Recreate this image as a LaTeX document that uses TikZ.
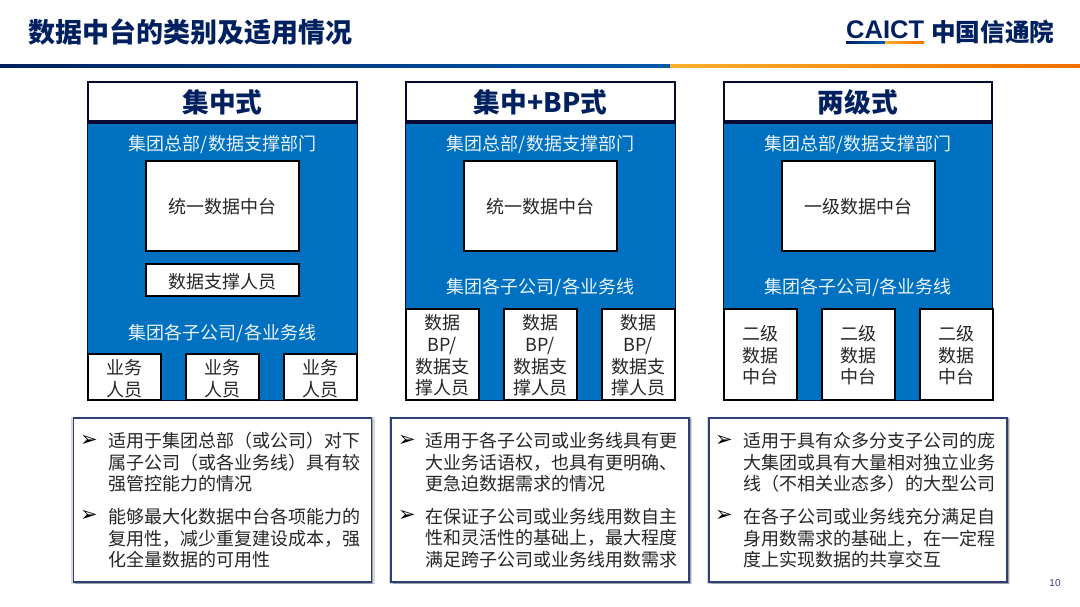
\documentclass[tikz,border=0pt]{standalone}
\usepackage{fontspec}
\setmainfont{Noto Sans CJK SC}
\newfontfamily\latinfont{Liberation Sans}
\newfontfamily\markfont{DejaVu Sans}
\usetikzlibrary{shadows}
\definecolor{NavyText}{RGB}{0,32,96}
\definecolor{PlainBlue}{RGB}{0,112,192}
\definecolor{BoxEdge}{RGB}{5,10,50}
\definecolor{PanelEdge}{RGB}{47,62,120}
\definecolor{TextGrey}{RGB}{38,38,38}
\definecolor{RuleBlue}{RGB}{0,90,170}
\definecolor{RuleYellow}{RGB}{250,175,45}
\definecolor{RuleOrange}{RGB}{240,110,0}
\newcommand{\boxtext}[1]{\raisebox{-4pt}[\height][\depth]{\begin{tabular}{@{}c@{}}#1\end{tabular}}}
\tikzset{
  head/.style={draw=BoxEdge,line width=2pt,fill=white,minimum width=268.5pt,minimum height=39pt,inner sep=0pt,text=NavyText,font=\fontsize{26.7}{30}\selectfont\bfseries},
  bluebox/.style={fill=PlainBlue,draw=BoxEdge,line width=1pt,minimum width=269.5pt,inner sep=0pt},
  headedge/.style={draw=BoxEdge,line width=3pt},
  whitebox/.style={draw=black,line width=2pt,fill=white,inner sep=0pt,align=center,text=TextGrey,font=\fontsize{18}{21.6}\selectfont},
  onblue/.style={text=white!92!PlainBlue,inner sep=0pt,font=\fontsize{18}{21}\selectfont},
  panel/.style={draw=PanelEdge,line width=1.6pt,fill=white,minimum width=298pt,minimum height=164.5pt,inner sep=0pt,
    general shadow={shadow xshift=.5pt,shadow yshift=-.5pt,shadow scale=1.02,fill=black,opacity=.15},
    drop shadow={shadow xshift=1.5pt,shadow yshift=-1.5pt,opacity=.4,fill=black!70}},
  bullettext/.style={anchor=north west,inner sep=0pt,align=left,text=TextGrey,font=\fontsize{18}{21.6}\selectfont},
  bulletmark/.style={inner sep=0pt,text=black,font=\markfont\fontsize{21}{21}\selectfont}
}
\begin{document}
\begin{tikzpicture}[x=1pt,y=-1pt]
\useasboundingbox (0,0) rectangle (1080,606);
% header
\node[anchor=west,inner sep=0pt,text=NavyText,font=\fontsize{27}{30}\selectfont\bfseries] (title) at (28,32) {数据中台的类别及适用情况};
\shade[left color=NavyText,right color=RuleBlue] (0,64) rectangle (670,67.5);
\shade[left color=RuleYellow,right color=RuleOrange] (670,64) rectangle (1080,67.5);
\node[anchor=west,inner sep=0pt,text=NavyText,font=\latinfont\fontsize{25.5}{28}\selectfont\bfseries] (caict) at (846,29.5) {CAICT};
\shade[left color=NavyText,right color=RuleBlue] (846,41) rectangle (885,43.5);
\shade[left color=RuleYellow,right color=RuleOrange] (885,41) rectangle (924,43.5);
\node[anchor=west,inner sep=0pt,text=NavyText,font=\fontsize{24.6}{26}\selectfont\bfseries] (caictname) at (931,32) {中国信通院};
% column one
\node[head] (headA) at (222.5,101.5) {\boxtext{集中式}};
\node[bluebox,minimum height=278pt] (blueA) at (222.5,261.5) {};
\draw[headedge] (blueA.north west) -- (blueA.north east);
\node[onblue] (topA) at (222.5,145) {集团总部/数据支撑部门};
\node[whitebox,minimum width=153pt,minimum height=90pt] (hubA) at (222,205.5) {\boxtext{统一数据中台}};
\node[whitebox,minimum width=153pt,minimum height=32pt] (staffA) at (222,280) {\boxtext{数据支撑人员}};
\node[onblue] (subA) at (222.5,333) {集团各子公司/各业务线};
\node[whitebox,minimum width=73pt,minimum height=46pt] (unitAa) at (124.5,377) {\boxtext{业务\\人员}};
\node[whitebox,minimum width=73pt,minimum height=46pt] (unitAb) at (222.5,377) {\boxtext{业务\\人员}};
\node[whitebox,minimum width=73pt,minimum height=46pt] (unitAc) at (320.5,377) {\boxtext{业务\\人员}};
% column two
\node[head] (headB) at (540.5,101.5) {\boxtext{集中+BP式}};
\node[bluebox,minimum height=278pt] (blueB) at (540.5,261.5) {};
\draw[headedge] (blueB.north west) -- (blueB.north east);
\node[onblue] (topB) at (540.5,145) {集团总部/数据支撑部门};
\node[whitebox,minimum width=153pt,minimum height=90pt] (hubB) at (540,205.5) {\boxtext{统一数据中台}};
\node[onblue] (subB) at (540.5,287) {集团各子公司/各业务线};
\node[whitebox,minimum width=73pt,minimum height=91pt] (unitBa) at (442,354) {\boxtext{数据\\BP/\\数据支\\撑人员}};
\node[whitebox,minimum width=73pt,minimum height=91pt] (unitBb) at (540,354) {\boxtext{数据\\BP/\\数据支\\撑人员}};
\node[whitebox,minimum width=73pt,minimum height=91pt] (unitBc) at (638,354) {\boxtext{数据\\BP/\\数据支\\撑人员}};
% column three
\node[head] (headC) at (858,101.5) {\boxtext{两级式}};
\node[bluebox,minimum height=278pt] (blueC) at (858,261.5) {};
\draw[headedge] (blueC.north west) -- (blueC.north east);
\node[onblue] (topC) at (858,145) {集团总部/数据支撑部门};
\node[whitebox,minimum width=153pt,minimum height=90pt] (hubC) at (858,205.5) {\boxtext{一级数据中台}};
\node[onblue] (subC) at (858,287) {集团各子公司/各业务线};
\node[whitebox,minimum width=73pt,minimum height=91pt] (unitCa) at (760,354) {\boxtext{二级\\数据\\中台}};
\node[whitebox,minimum width=73pt,minimum height=91pt] (unitCb) at (858,354) {\boxtext{二级\\数据\\中台}};
\node[whitebox,minimum width=73pt,minimum height=91pt] (unitCc) at (956,354) {\boxtext{二级\\数据\\中台}};
% panels
\node[panel] (panelA) at (222.5,500) {};
\node[bulletmark] (markAa) at (89,441) {➢};
\node[bullettext] (textAa) at (108,432) {适用于集团总部（或公司）对下\\属子公司（或各业务线）具有较\\强管控能力的情况};
\node[bulletmark] (markAb) at (89,516) {➢};
\node[bullettext] (textAb) at (108,508) {能够最大化数据中台各项能力的\\复用性，减少重复建设成本，强\\化全量数据的可用性};
\node[panel] (panelB) at (540,500) {};
\node[bulletmark] (markBa) at (407,441) {➢};
\node[bullettext] (textBa) at (425,432) {适用于各子公司或业务线具有更\\大业务话语权，也具有更明确、\\更急迫数据需求的情况};
\node[bulletmark] (markBb) at (407,516) {➢};
\node[bullettext] (textBb) at (425,508) {在保证子公司或业务线用数自主\\性和灵活性的基础上，最大程度\\满足跨子公司或业务线用数需求};
\node[panel] (panelC) at (858,500) {};
\node[bulletmark] (markCa) at (724,441) {➢};
\node[bullettext] (textCa) at (743,432) {适用于具有众多分支子公司的庞\\大集团或具有大量相对独立业务\\线（不相关业态多）的大型公司};
\node[bulletmark] (markCb) at (724,516) {➢};
\node[bullettext] (textCb) at (743,508) {在各子公司或业务线充分满足自\\身用数需求的基础上，在一定程\\度上实现数据的共享交互};
\node[inner sep=0pt,text=PanelEdge,font=\latinfont\fontsize{10}{12}\selectfont] (pageno) at (1055,583) {10};
\end{tikzpicture}
\end{document}
